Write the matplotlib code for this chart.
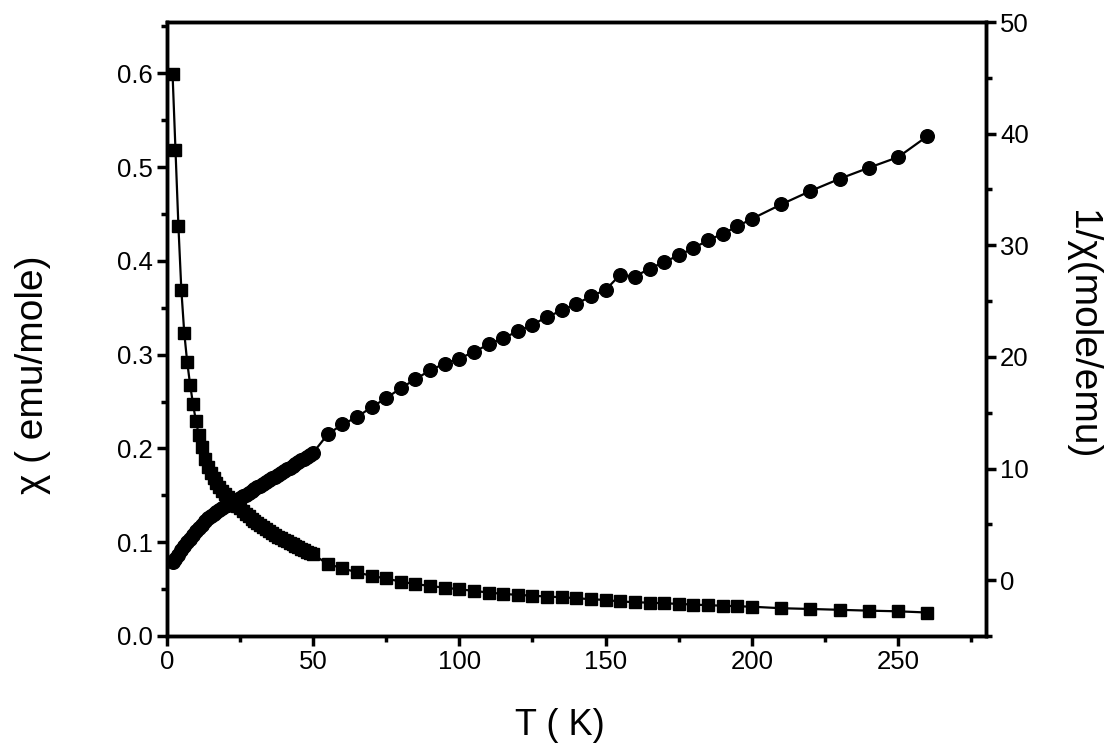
import matplotlib
matplotlib.use("Agg")
import matplotlib.pyplot as plt
from matplotlib.ticker import MultipleLocator

plt.rcParams['font.family'] = ['Liberation Sans', 'DejaVu Sans']

# --- dane ---
T_dense = list(range(2, 51))
T_sparse = [55, 60, 65, 70, 75, 80, 85, 90, 95, 100, 105, 110, 115, 120, 125,
            130, 135, 140, 145, 150, 155, 160, 165, 170, 175, 180, 185, 190,
            195, 200, 210, 220, 230, 240, 250, 260]

chi_dense = [0.599, 0.518, 0.437, 0.369, 0.323, 0.292, 0.268, 0.247, 0.229,
             0.214, 0.201, 0.189, 0.180, 0.174, 0.168, 0.163, 0.159, 0.155,
             0.151, 0.148, 0.145, 0.142, 0.139, 0.136, 0.133, 0.130, 0.128,
             0.125, 0.123, 0.120, 0.118, 0.116, 0.114, 0.112, 0.110, 0.108,
             0.106, 0.104, 0.102, 0.101, 0.099, 0.098, 0.096, 0.095, 0.093,
             0.092, 0.090, 0.089, 0.087]
chi_sparse = [0.0768, 0.0722, 0.0679, 0.0641, 0.0613, 0.0579, 0.0554, 0.0533,
              0.0515, 0.0498, 0.0481, 0.0463, 0.0449, 0.0438, 0.0430, 0.0420,
              0.0413, 0.0403, 0.0392, 0.0384, 0.0368, 0.0360, 0.0355, 0.0349,
              0.0342, 0.0335, 0.0328, 0.0323, 0.0317, 0.0312, 0.0296, 0.0288,
              0.0279, 0.0270, 0.0263, 0.0250]

inv_dense = [1.67, 1.93, 2.29, 2.71, 3.10, 3.42, 3.73, 4.05, 4.36, 4.68, 4.98,
             5.28, 5.55, 5.76, 5.95, 6.12, 6.29, 6.45, 6.61, 6.76, 6.91, 7.05,
             7.19, 7.35, 7.51, 7.67, 7.83, 7.99, 8.15, 8.31, 8.47, 8.63, 8.80,
             8.96, 9.12, 9.28, 9.44, 9.60, 9.76, 9.93, 10.09, 10.25, 10.41,
             10.57, 10.73, 10.89, 11.06, 11.22, 11.40]
inv_sparse = [13.06, 13.95, 14.6, 15.5, 16.3, 17.2, 18.0, 18.8, 19.4, 19.85,
              20.45, 21.12, 21.70, 22.28, 22.90, 23.57, 24.17, 24.76, 25.42,
              26.01, 27.36, 27.20, 27.90, 28.50, 29.10, 29.75, 30.44, 31.03,
              31.70, 32.37, 33.66, 34.86, 35.96, 36.95, 37.90, 39.78]

T = T_dense + T_sparse
chi = chi_dense + chi_sparse
inv_chi = inv_dense + inv_sparse


def style_axis(ax):
    for s in ax.spines.values():
        s.set_linewidth(2.5)
    ax.tick_params(which='major', length=7, width=2.5, labelsize=18.5, pad=3)
    ax.tick_params(which='minor', length=4.5, width=2.5)


fig = plt.figure(figsize=(11.07, 7.49), dpi=100)
ax = fig.add_axes([0.1506, 0.1509, 0.7401, 0.8197])
ax2 = ax.twinx()

ax.plot(T, chi, color='black', lw=1.6, marker='s', ms=8.4, mec='black', mfc='black')
ax2.plot(T, inv_chi, color='black', lw=1.6, marker='o', ms=9.8, mec='black', mfc='black')

ax.set_xlim(0, 280)
ax.set_ylim(0, 0.6547)
ax2.set_ylim(-5, 50)

ax.xaxis.set_major_locator(MultipleLocator(50))
ax.xaxis.set_minor_locator(MultipleLocator(25))
ax.yaxis.set_major_locator(MultipleLocator(0.1))
ax.yaxis.set_minor_locator(MultipleLocator(0.05))
ax.yaxis.set_major_formatter(plt.FormatStrFormatter('%.1f'))
ax2.yaxis.set_major_locator(MultipleLocator(10))
ax2.yaxis.set_minor_locator(MultipleLocator(5))
ax2.set_yticks([0, 10, 20, 30, 40, 50])

style_axis(ax)
style_axis(ax2)
ax.tick_params(axis='y', which='both', right=False)
ax.tick_params(axis='x', which='both', top=False)

ax.set_xlabel('T ( K)', fontsize=26)
ax.xaxis.label.set_verticalalignment('top')
ax.xaxis.set_label_coords(0.48, -0.118)

ax.set_ylabel('χ ( emu/mole)', fontsize=28)
ax.yaxis.label.set_verticalalignment('center')
ax.yaxis.set_label_coords(-0.163, 0.425)

ax2.set_ylabel('1/χ(mole/emu)', fontsize=28, rotation=270)
ax2.yaxis.label.set_verticalalignment('center')
ax2.yaxis.set_label_coords(1.117, 0.49)

fig.savefig('out.png', dpi=100)
